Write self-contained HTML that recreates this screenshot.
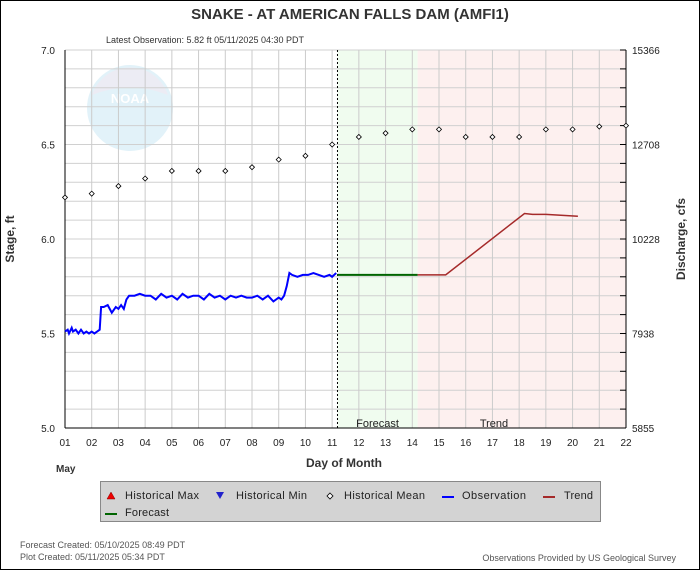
<!DOCTYPE html>
<html><head><meta charset="utf-8"><style>
body{margin:0;background:#fff;font-family:"Liberation Sans",sans-serif}
svg text{font-family:"Liberation Sans",sans-serif}
</style></head><body>
<svg id="c" width="700" height="570" viewBox="0 0 700 570" xmlns="http://www.w3.org/2000/svg">
<rect x="0.5" y="0.5" width="699" height="569" fill="#fff" stroke="#000"/>
<text x="350" y="19" text-anchor="middle" font-size="15" font-weight="bold" fill="#333">SNAKE - AT AMERICAN FALLS DAM  (AMFI1)</text>
<text x="205" y="43" text-anchor="middle" font-size="9" fill="#333">Latest Observation:  5.82 ft 05/11/2025 04:30 PDT</text>
<g id="plot"></g>
<text x="14" y="239" text-anchor="middle" font-size="12" font-weight="bold" fill="#333" transform="rotate(-90 14 239)">Stage, ft</text>
<text x="685" y="239" text-anchor="middle" font-size="12" font-weight="bold" fill="#333" transform="rotate(-90 685 239)">Discharge, cfs</text>
<text x="344" y="467" text-anchor="middle" font-size="12" font-weight="bold" fill="#333">Day of Month</text>
<text x="56" y="472" font-size="10" font-weight="bold" fill="#333">May</text>
<g>
<rect x="100.5" y="481.5" width="500" height="40" fill="#d3d3d3" stroke="#888"/>
<polygon points="107,499 115,499 111,492" fill="#e00" stroke="#800" stroke-width="0.5"/>
<text x="125" y="499" font-size="11" fill="#222" textLength="74">Historical Max</text>
<polygon points="216,492 224,492 220,499" fill="#22c"/>
<text x="236" y="499" font-size="11" fill="#222" textLength="71">Historical Min</text>
<polygon points="330,493 333,496 330,499 327,496" fill="#fff" stroke="#000" stroke-width="0.8"/>
<text x="344" y="499" font-size="11" fill="#222" textLength="81">Historical Mean</text>
<line x1="442" y1="497" x2="454" y2="497" stroke="#00f" stroke-width="2"/>
<text x="462" y="499" font-size="11" fill="#222" textLength="64">Observation</text>
<line x1="543" y1="497" x2="555" y2="497" stroke="#a52a2a" stroke-width="2"/>
<text x="564" y="499" font-size="11" fill="#222" textLength="29">Trend</text>
<line x1="105" y1="514" x2="117" y2="514" stroke="#006400" stroke-width="2"/>
<text x="125" y="516" font-size="11" fill="#222" textLength="44">Forecast</text>
</g>
<text x="20" y="548" font-size="9" fill="#555">Forecast Created: 05/10/2025 08:49 PDT</text>
<text x="20" y="560" font-size="9" fill="#555">Plot Created: 05/11/2025 05:34 PDT</text>
<text x="676" y="561" text-anchor="end" font-size="9" fill="#555">Observations Provided by US Geological Survey</text>
</svg>
<script>
const dayTicks=["01","02","03","04","05","06","07","08","09","10","11","12","13","14","15","16","17","18","19","20","21","22"];
const stageTicks=[5.0,5.5,6.0,6.5,7.0];
const flowTicks=["5855","7938","10228","12708","15366"];
const meanDays=[1,2,3,4,5,6,7,8,9,10,11,12,13,14,15,16,17,18,19,20,21,22];
const meanVals=[6.22,6.24,6.28,6.32,6.36,6.36,6.36,6.38,6.42,6.44,6.50,6.54,6.56,6.58,6.58,6.54,6.54,6.54,6.58,6.58,6.595,6.60];
const obsDays=[1,1.1,1.15,1.25,1.3,1.4,1.5,1.6,1.7,1.8,1.9,2.0,2.1,2.2,2.3,2.35,2.45,2.6,2.75,2.9,3.0,3.1,3.2,3.3,3.4,3.6,3.8,4.0,4.2,4.4,4.6,4.8,5.0,5.2,5.4,5.6,5.8,6.0,6.2,6.4,6.6,6.8,7.0,7.2,7.4,7.6,7.8,8.0,8.2,8.4,8.6,8.8,9.0,9.1,9.2,9.3,9.4,9.5,9.7,9.9,10.1,10.3,10.5,10.7,10.9,11.0,11.15];
const obsVals=[5.51,5.52,5.50,5.53,5.51,5.52,5.50,5.52,5.50,5.51,5.50,5.51,5.50,5.51,5.52,5.64,5.64,5.65,5.61,5.64,5.63,5.65,5.63,5.68,5.70,5.70,5.71,5.70,5.70,5.68,5.71,5.69,5.70,5.68,5.71,5.69,5.70,5.70,5.68,5.71,5.69,5.70,5.68,5.70,5.69,5.70,5.69,5.69,5.70,5.68,5.70,5.67,5.69,5.68,5.70,5.75,5.82,5.81,5.80,5.81,5.81,5.82,5.81,5.80,5.81,5.80,5.82];
const fcDays=[11.2,14.2];
const fcVals=[5.81,5.81];
const trendDays=[14.2,15.25,18.2,18.5,19.0,20.2];
const trendVals=[5.81,5.81,6.135,6.13,6.13,6.12];
const regionDays=[11.2,14.2,22];

const X0=65,X1=626,Y0=428,Y1=50;
const x=d=>X0+(d-1)*(X1-X0)/21;
const y=v=>Y0-(v-5)*(Y0-Y1)/2;
const NS="http://www.w3.org/2000/svg";
const g=document.getElementById('plot');
function mk(t,a){const e=document.createElementNS(NS,t);for(const k in a)e.setAttribute(k,a[k]);g.appendChild(e);return e;}
let e;
e=mk('rect',{x:X0,y:Y1,width:X1-X0,height:Y0-Y1,fill:'#fff'});


e=mk('rect',{x:x(regionDays[0]),y:Y1,width:x(regionDays[1])-x(regionDays[0]),height:Y0-Y1,fill:'#f0fcef'});


e=mk('rect',{x:x(regionDays[1]),y:Y1,width:x(regionDays[2])-x(regionDays[1]),height:Y0-Y1,fill:'#fdf0ef'});


e=mk('circle',{cx:130,cy:108,r:43,fill:'#e2f2f9'});


e=mk('path',{d:'M92,95 A40,40 0 0 1 168,95 Q130,80 92,95Z',fill:'#ececf4'});
e=mk('text',{x:130,y:103,'text-anchor':'middle','font-size':13,fill:'#fff','font-weight':'bold'});e.textContent='NOAA';
for(let v=5.1;v<7.0;v+=0.1){mk('line',{x1:X0,x2:X1,y1:y(v),y2:y(v),stroke:'#d0d0d0','stroke-width':1});mk('line',{x1:X1-6,x2:X1,y1:y(v),y2:y(v),stroke:'#000'});}
dayTicks.forEach((t,i)=>{const xx=x(i+1);mk('line',{x1:xx,x2:xx,y1:Y1,y2:Y0,stroke:'#cbcbcb'});
 e=mk('text',{x:xx,y:446,'text-anchor':'middle','font-size':10,fill:'#222'});e.textContent=t;
 
 });
stageTicks.forEach((v,i)=>{e=mk('text',{x:55,y:y(v)+4,'text-anchor':'end','font-size':10,fill:'#222'});e.textContent=v.toFixed(1);
 
 
 e=mk('text',{x:632,y:y(v)+4,'font-size':10,fill:'#222'});e.textContent=flowTicks[i];
 
 });
mk('line',{x1:X0,x2:X0,y1:Y1,y2:Y0,stroke:'#000'});
mk('line',{x1:X1,x2:X1,y1:Y1,y2:Y0,stroke:'#000'});
mk('line',{x1:X0,x2:X1,y1:Y0,y2:Y0,stroke:'#000'});
e=mk('line',{x1:x(regionDays[0]),x2:x(regionDays[0]),y1:Y1,y2:Y0,stroke:'#000','stroke-dasharray':'2,2'});


e=mk('text',{x:(x(regionDays[0])+x(regionDays[1]))/2,y:427,'text-anchor':'middle','font-size':11,fill:'#222'});e.textContent='Forecast';


e=mk('text',{x:494,y:427,'text-anchor':'middle','font-size':11,fill:'#222'});e.textContent='Trend';


const pl=(ds,vs)=>ds.map((d,i)=>x(d).toFixed(1)+','+y(vs[i]).toFixed(1)).join(' ');
e=mk('polyline',{points:pl(obsDays,obsVals),fill:'none',stroke:'#00f','stroke-width':2});


e=mk('polyline',{points:pl(fcDays,fcVals),fill:'none',stroke:'#006400','stroke-width':2});


e=mk('polyline',{points:pl(trendDays,trendVals),fill:'none',stroke:'#a52a2a','stroke-width':1.5});


meanDays.forEach((d,i)=>{const cx=x(d),cy=y(meanVals[i]);
 e=mk('polygon',{points:`${cx},${cy-2.5} ${cx+2.5},${cy} ${cx},${cy+2.5} ${cx-2.5},${cy}`,fill:'#fff',stroke:'#000','stroke-width':0.8});
 
 });
</script>
</body></html>
